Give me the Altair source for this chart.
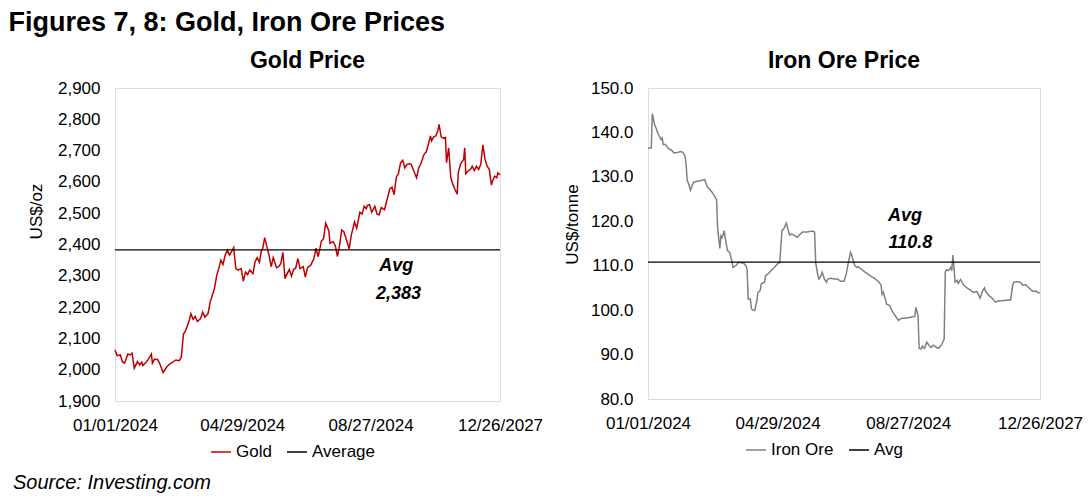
import altair as alt
import pandas as pd

FONT = "Liberation Sans"
START = "2024-01-01"

# x axis ticks (day offsets from start) and their printed labels
X_TICK_DAYS = [0, 119, 239, 360]
X_TICK_LABELS = ["01/01/2024", "04/29/2024", "08/27/2024", "12/26/2027"]

# Gold price (US$/oz)
GOLD_DAYS = [0, 2, 5, 7, 9, 12, 14, 16, 18, 21, 23, 25, 26, 29, 31, 34, 35, 37, 40, 42,
             45, 48, 51, 54, 57, 60, 62, 64, 66, 69, 71, 73, 75, 77, 80, 82, 84, 87, 89, 91,
             93, 95, 97, 99, 101, 103, 105, 107, 109, 111, 113, 115, 118, 120, 122, 124, 126, 129, 131, 133,
             135, 137, 138, 140, 142, 144, 146, 148, 151, 153, 155, 157, 159, 161, 163, 165, 167, 169, 171, 173,
             176, 178, 180, 183, 186, 188, 190, 193, 195, 197, 200, 201, 204, 206, 208, 210, 212, 214, 217, 219,
             221, 224, 226, 229, 231, 233, 235, 236, 238, 240, 243, 245, 247, 249, 252, 254, 257, 259, 261, 263,
             265, 267, 269, 271, 273, 275, 277, 280, 282, 284, 286, 289, 291, 293, 295, 296, 298, 300, 302, 303,
             305, 307, 309, 310, 312, 314, 316, 318, 320, 321, 323, 326, 327, 328, 330, 333, 334, 336, 338, 340,
             342, 344, 346, 348, 350, 352, 353, 355, 357, 358, 360]
GOLD_PRICES = [2063, 2045, 2047, 2025, 2021, 2050, 2047, 2053, 2005, 2026, 2015, 2024, 2013, 2024, 2032, 2050, 2021, 2034, 2032, 2018,
               1991, 2007, 2018, 2024, 2031, 2029, 2040, 2114, 2125, 2152, 2179, 2161, 2170, 2154, 2163, 2184, 2168, 2179, 2216, 2238,
               2259, 2299, 2323, 2350, 2336, 2366, 2382, 2366, 2377, 2390, 2323, 2318, 2323, 2283, 2312, 2304, 2318, 2307, 2345, 2358,
               2343, 2382, 2386, 2422, 2393, 2366, 2329, 2358, 2326, 2329, 2339, 2375, 2291, 2307, 2320, 2299, 2320, 2325, 2355, 2323,
               2329, 2296, 2326, 2334, 2355, 2388, 2361, 2411, 2418, 2468, 2443, 2404, 2409, 2396, 2361, 2398, 2446, 2441, 2409, 2386,
               2431, 2472, 2452, 2503, 2497, 2522, 2514, 2525, 2527, 2503, 2522, 2497, 2495, 2518, 2511, 2538, 2578, 2583, 2559, 2615,
               2626, 2661, 2669, 2645, 2656, 2658, 2656, 2629, 2613, 2645, 2658, 2688, 2696, 2720, 2747, 2731, 2744, 2747, 2765, 2784,
               2744, 2740, 2742, 2661, 2709, 2613, 2592, 2575, 2561, 2629, 2656, 2672, 2709, 2626, 2634, 2643, 2650, 2636, 2650, 2640,
               2656, 2718, 2672, 2650, 2640, 2590, 2602, 2618, 2613, 2629, 2622]
GOLD_AVG = 2383

# Iron ore price (US$/tonne)
IRON_DAYS = [0, 3, 4, 6, 8, 9, 12, 13, 14, 16, 19, 21, 24, 27, 30, 32, 34, 35, 36, 37,
             39, 41, 42, 45, 49, 52, 54, 55, 58, 60, 63, 64, 66, 67, 68, 70, 71, 73, 75, 77,
             78, 81, 83, 85, 88, 90, 91, 92, 94, 95, 97, 98, 100, 101, 103, 104, 107, 108, 110, 113,
             116, 119, 121, 123, 125, 127, 130, 132, 134, 137, 139, 142, 146, 151, 153, 154, 156, 157, 159, 160,
             162, 164, 165, 168, 171, 174, 177, 179, 180, 182, 184, 186, 187, 189, 190, 192, 193, 196, 199, 202,
             205, 209, 212, 214, 215, 216, 218, 219, 222, 224, 226, 228, 230, 233, 236, 241, 245, 246, 248, 249,
             251, 252, 254, 256, 258, 260, 262, 265, 267, 270, 272, 273, 274, 276, 278, 279, 280, 281, 282, 284,
             285, 287, 290, 293, 296, 299, 302, 305, 307, 309, 310, 312, 314, 316, 319, 322, 326, 330, 333, 335,
             336, 339, 342, 344, 347, 349, 352, 354, 356, 359, 360]
IRON_PRICES = [136.5, 136.5, 144.2, 141.8, 140.6, 139.8, 138.4, 138.8, 137.3, 137.3, 136.3, 136.1, 135.4, 135.5, 135.7, 135.5, 134.7, 132.8, 129.1, 128.7,
               127.0, 128.3, 128.8, 129.0, 129.2, 129.4, 128.0, 127.6, 126.8, 126.1, 124.8, 118.2, 113.9, 116.7, 116.3, 117.9, 116.1, 113.4, 113.0, 111.1,
               109.6, 110.1, 110.7, 110.7, 110.5, 110.0, 109.2, 102.5, 102.5, 100.3, 99.9, 99.9, 102.1, 104.0, 104.4, 105.9, 106.3, 107.8, 108.1, 108.9,
               109.6, 110.4, 110.7, 117.9, 118.4, 119.6, 116.9, 117.1, 116.9, 116.4, 116.9, 117.6, 117.6, 117.8, 117.6, 110.7, 107.8, 107.0, 107.8, 108.5,
               107.0, 106.3, 107.0, 107.2, 107.0, 107.0, 106.5, 106.5, 106.5, 108.1, 110.7, 113.0, 112.4, 110.7, 110.0, 109.6, 109.8, 109.2, 108.6, 108.1,
               107.6, 107.0, 106.3, 105.7, 103.6, 104.0, 102.5, 101.4, 101.0, 99.9, 99.1, 98.4, 97.7, 98.2, 98.2, 98.4, 98.6, 100.6, 98.8, 91.4,
               91.3, 91.9, 91.4, 92.8, 92.1, 91.6, 92.1, 91.6, 91.4, 92.4, 93.5, 108.5, 109.1, 108.9, 109.6, 108.9, 112.4, 109.6, 106.3, 106.7,
               106.0, 106.9, 105.6, 105.0, 104.5, 104.0, 104.2, 102.7, 104.2, 105.0, 104.2, 103.6, 103.1, 102.7, 101.8, 102.1, 102.1, 102.3, 102.3, 105.7,
               106.3, 106.4, 106.3, 105.6, 105.7, 105.2, 104.5, 104.2, 104.3, 103.9, 104.0]
IRON_AVG = 110.8


def to_dates(days):
    return pd.Timestamp(START) + pd.to_timedelta(days, unit="D")


def dt(day):
    d = to_dates([day])[0]
    return alt.DateTime(year=d.year, month=d.month, date=d.day)


tick_vals = [dt(d) for d in X_TICK_DAYS]
x_domain = [dt(X_TICK_DAYS[0]), dt(X_TICK_DAYS[-1])]
label_expr = "''"
for d, lab in zip(X_TICK_DAYS, X_TICK_LABELS):
    key = to_dates([d])[0].strftime("%Y-%m-%d")
    label_expr = f"timeFormat(datum.value, '%Y-%m-%d') == '{key}' ? '{lab}' : ({label_expr})"


def panel(days, prices, name, avg, avg_name, avg_label, color, title, ytitle, ydomain,
          ystep, yfmt, title_y, width, height, ann_days, ann_vals, legend_x, ytitle_pad,
          source=None):
    df = pd.DataFrame({"date": to_dates(days), "price": prices, "series": name})
    avg_df = pd.DataFrame({"price": [avg], "series": [avg_name]})
    ann_df = pd.DataFrame({"date": to_dates(ann_days), "price": ann_vals,
                           "label": ["Avg", avg_label]})
    n = int(round((ydomain[1] - ydomain[0]) / ystep))
    yvals = [ydomain[0] + i * ystep for i in range(n + 1)]

    color_enc = alt.Color(
        "series:N",
        scale=alt.Scale(domain=[name, avg_name], range=[color, "#000000"]),
        legend=alt.Legend(
            title=None, orient="none", legendX=legend_x, legendY=height + 40,
            direction="horizontal", symbolType="stroke", symbolSize=400,
            symbolStrokeWidth=1.5, labelFontSize=17, labelFont=FONT,
            labelColor="#000000", columnPadding=12, labelOffset=4,
        ),
    )
    x_enc = alt.X(
        "date:T",
        scale=alt.Scale(domain=x_domain),
        axis=alt.Axis(
            values=tick_vals, labelExpr=label_expr, title=None, ticks=False,
            grid=False, domainColor="#d9d9d9", domainWidth=1.2, labelFontSize=17,
            labelFont=FONT, labelColor="#000000", labelPadding=16,
            labelOverlap=False, labelFlush=False,
        ),
    )
    y_enc = alt.Y(
        "price:Q",
        scale=alt.Scale(domain=ydomain, nice=False, zero=False),
        axis=alt.Axis(
            values=yvals, format=yfmt, title=ytitle, ticks=False, grid=False,
            domain=False, labelFontSize=17, labelFont=FONT, labelColor="#000000",
            labelPadding=15, labelOverlap=False, titleFontSize=17, titleFont=FONT,
            titleFontWeight="normal", titleColor="#000000", titlePadding=ytitle_pad,
            titleY=title_y,
        ),
    )
    line = alt.Chart(df).mark_line(strokeWidth=1.5).encode(x=x_enc, y=y_enc, color=color_enc)
    rule = alt.Chart(avg_df).mark_rule(strokeWidth=1.3).encode(
        y=y_enc, color=alt.Color("series:N"))
    ann = alt.Chart(ann_df).mark_text(
        font=FONT, fontSize=18, fontWeight="bold", fontStyle="italic", color="#000000"
    ).encode(x=x_enc, y=y_enc, text="label:N")
    layers = [line, rule, ann]
    if source is not None:
        src = alt.Chart(pd.DataFrame({"t": [source]})).mark_text(
            font=FONT, fontSize=20, fontStyle="italic", align="left", baseline="middle",
            color="#000000"
        ).encode(x=alt.value(-102), y=alt.value(height + 82), text="t:N")
        layers.append(src)
    return alt.layer(*layers).properties(
        width=width, height=height,
        title=alt.TitleParams(title, font=FONT, fontSize=23, fontWeight="bold",
                              color="#000000", anchor="middle", offset=6),
    )


gold = panel(GOLD_DAYS, GOLD_PRICES, "Gold", GOLD_AVG, "Average", "2,383", "#c00000",
             "Gold Price", "US$/oz", [1900, 2900], 100, ",.0f", 123, 385, 313,
             [263, 265], [2331, 2243], 95, 12, source="Source: Investing.com")
iron = panel(IRON_DAYS, IRON_PRICES, "Iron Ore", IRON_AVG, "Avg", "110.8", "#808080",
             "Iron Ore Price", "US$/tonne", [80, 150], 10, ".1f", 136, 392, 311,
             [236, 241], [121.2, 115.1], 97, 9)

chart = alt.hconcat(gold, iron, spacing=18).resolve_scale(color="independent").properties(
    title=alt.TitleParams("Figures 7, 8: Gold, Iron Ore Prices", font=FONT, fontSize=27,
                          fontWeight="bold", color="#000000", anchor="start", dx=-4, offset=13),
    padding={"left": 8, "top": 8, "right": 5, "bottom": 5},
).configure_view(strokeWidth=0).configure_axis(labelOverlap=False).configure(font=FONT)

chart.save("out.html", embed_options={"renderer": "svg", "actions": False})
